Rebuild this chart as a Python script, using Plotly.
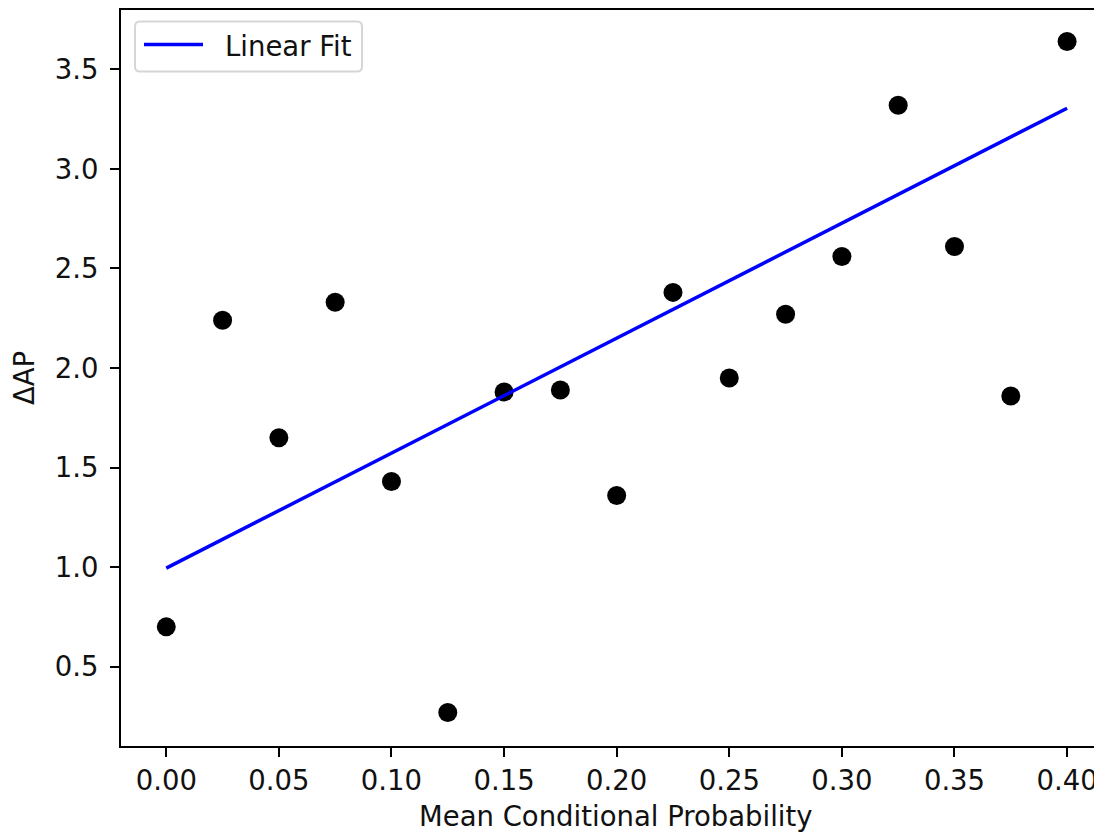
import plotly.graph_objects as go

# Data
mean_cond_prob = [0.000, 0.025, 0.050, 0.075, 0.100, 0.125, 0.150, 0.175, 0.200,
                  0.225, 0.250, 0.275, 0.300, 0.325, 0.350, 0.375, 0.400]
delta_ap = [0.70, 2.24, 1.65, 2.33, 1.43, 0.27, 1.88, 1.89, 1.36,
            2.38, 1.95, 2.27, 2.56, 3.32, 2.61, 1.86, 3.64]
fit_x = [0.0, 0.4]
fit_y = [0.995, 3.305]

x_ticks = [0.00, 0.05, 0.10, 0.15, 0.20, 0.25, 0.30, 0.35, 0.40]
y_ticks = [0.5, 1.0, 1.5, 2.0, 2.5, 3.0, 3.5]
legend_label = "Linear Fit"
x_title = "Mean Conditional Probability"
y_title = "ΔAP"

FONT = "DejaVu Sans"
FS = 27.5
TXT = "#111111"

# page body has an 8px margin; figure is sized to end at the window edge
W, H = 1094, 824
ML, MT, MB = 113, 2, 86
PW, PH = W - ML, H - MT - MB   # plot area size in px


def px_x(px):  # page pixel x -> paper coordinate
    return (px - 8 - ML) / PW


def px_y(py):  # page pixel y -> paper coordinate
    return 1 - (py - 8 - MT) / PH


fig = go.Figure()
fig.add_trace(go.Scatter(
    x=mean_cond_prob, y=delta_ap, mode="markers",
    marker=dict(color="black", size=19, line=dict(width=0)),
    showlegend=False,
))
fig.add_trace(go.Scatter(
    x=fit_x, y=fit_y, mode="lines", name=legend_label,
    line=dict(color="#0000ff", width=3.5),
    showlegend=False,
))

axis_common = dict(
    showgrid=False, zeroline=False, showline=True, linecolor="black", linewidth=2,
    ticks="outside", ticklen=9, tickwidth=2, tickcolor="black",
    tickfont=dict(family=FONT, size=FS, color=TXT),
    automargin=False,
)

# manual legend (matplotlib-style rounded frame)
bx0, bx1 = px_x(135), px_x(362)
by0, by1 = px_y(71.5), px_y(21.5)
rx, ry = 5 / PW, 5 / PH
path = (f"M {bx0+rx} {by1} L {bx1-rx} {by1} Q {bx1} {by1} {bx1} {by1-ry} "
        f"L {bx1} {by0+ry} Q {bx1} {by0} {bx1-rx} {by0} "
        f"L {bx0+rx} {by0} Q {bx0} {by0} {bx0} {by0+ry} "
        f"L {bx0} {by1-ry} Q {bx0} {by1} {bx0+rx} {by1} Z")
ly = px_y(44.5)
shapes = [
    dict(type="path", xref="paper", yref="paper", path=path,
         line=dict(color="#d6d6d6", width=2), fillcolor="rgba(255,255,255,0.8)"),
    dict(type="line", xref="paper", yref="paper", x0=px_x(144), x1=px_x(203),
         y0=ly, y1=ly, line=dict(color="#0000ff", width=3.5)),
]
annotations = [
    dict(xref="paper", yref="paper", x=px_x(223), y=px_y(46), xanchor="left",
         yanchor="middle", text=legend_label, showarrow=False,
         font=dict(family=FONT, size=FS, color=TXT)),
    dict(xref="paper", yref="paper", x=px_x(616), y=px_y(815.5), xanchor="center",
         yanchor="middle", text=x_title, showarrow=False,
         font=dict(family=FONT, size=FS, color=TXT)),
]

fig.update_layout(
    width=W, height=H,
    margin=dict(l=ML, r=0, t=MT, b=MB, pad=0),
    paper_bgcolor="white", plot_bgcolor="white",
    font=dict(family=FONT, size=FS, color=TXT),
    showlegend=False,
    shapes=shapes, annotations=annotations,
    xaxis=dict(
        range=[-0.0201, 0.4155], tickvals=x_ticks, tickformat=".2f",
        mirror=True,
        **axis_common,
    ),
    yaxis=dict(
        range=[0.1015, 3.7984], tickvals=y_ticks, tickformat=".1f",
        mirror=False, ticklabelstandoff=6,
        title=dict(text=y_title, standoff=16,
                   font=dict(family=FONT, size=FS, color=TXT)),
        **axis_common,
    ),
)

fig.write_html("out.html")
